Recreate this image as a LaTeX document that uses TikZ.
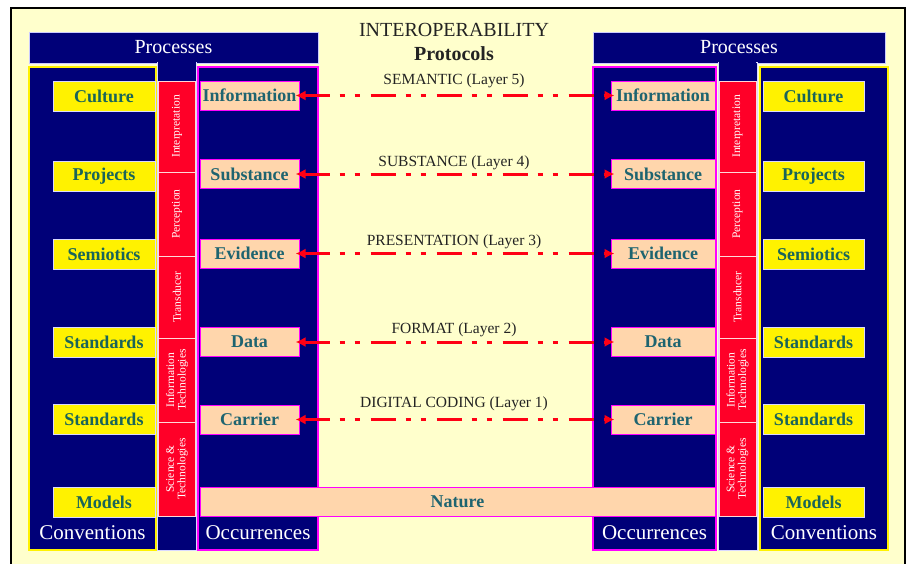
\documentclass[tikz,border=0pt]{standalone}
\usepackage{fontspec}
\setmainfont{Liberation Serif}
\usetikzlibrary{arrows.meta}
\definecolor{navy}{RGB}{0,0,120}
\definecolor{bgyel}{RGB}{255,255,204}
\definecolor{redseg}{RGB}{255,0,40}
\definecolor{salmon}{RGB}{255,214,172}
\definecolor{magb}{RGB}{255,0,255}
\definecolor{tealt}{RGB}{30,100,112}
\definecolor{tealg}{RGB}{25,100,90}
\definecolor{arrred}{RGB}{255,0,20}
\definecolor{titleg}{RGB}{35,35,35}
\newcommand{\fsz}[1]{\fontsize{#1}{#1}\selectfont}
\tikzset{
  headbox/.style={fill=navy, draw=white!80!blue, line width=1pt, inner sep=0, text=white, font=\fsz{20}},
  colbox/.style={fill=navy, line width=1.5pt, inner sep=0},
  midstrip/.style={fill=navy, draw=white!85!blue, line width=0.8pt, inner sep=0},
  redbox/.style={fill=redseg, draw=white!85!red, line width=0.8pt, inner sep=0, text=white, font=\fsz{11.5}, align=center, rotate=90},
  ybox/.style={fill=yellow, draw=white!85!blue, line width=1pt, inner sep=0, text=tealg, font=\bfseries\fsz{18}, minimum height=30},
  sbox/.style={fill=salmon, draw=magb, line width=1pt, inner sep=0, text=tealt, font=\bfseries\fsz{18}, minimum height=29},
  wlabel/.style={text=white, font=\fsz{21}, inner sep=0},
  titletext/.style={text=titleg, font=\fsz{20}, inner sep=0},
  layerlab/.style={text=titleg, font=\fsz{15.5}, inner sep=0},
  proto/.style={draw=arrred, line width=3pt, {Latex[length=10pt,width=10pt]}-{Latex[length=10pt,width=10pt]},
    dash pattern=on 25pt off 10pt on 5pt off 10pt on 5pt off 11pt, shorten <=-4pt, shorten >=-4pt}
}
\begin{document}
\begin{tikzpicture}[x=1pt,y=-1pt]
\useasboundingbox (0,0) rectangle (909,563);
\fill[white] (0,0) rectangle (909,563);
\draw[black, line width=1.5pt, fill=bgyel] (11,8) rectangle (905,575);

% headers
\node[headbox, minimum width=289, minimum height=31] (procL) at (173.5,47.5) {Processes};
\node[headbox, minimum width=292, minimum height=31] (procR) at (739,47.5) {Processes};

% columns
\node[colbox, draw=yellow, minimum width=127, minimum height=483] (convL) at (92.5,308.5) {};
\node[colbox, draw=magb, minimum width=120, minimum height=483] (occL) at (258,308.5) {};
\node[colbox, draw=magb, minimum width=123, minimum height=483] (occR) at (654.5,308.5) {};
\node[colbox, draw=yellow, minimum width=128, minimum height=483] (convR) at (824,308.5) {};

% middle strips
\node[midstrip, minimum width=39, minimum height=488] (stripL) at (177,306) {};
\node[midstrip, minimum width=39, minimum height=488] (stripR) at (737.5,306) {};
\fill[navy] (158,60) rectangle (196,66);
\fill[navy] (719,60) rectangle (756,66);

% red segments left
\node[redbox, minimum width=91, minimum height=37] (intL) at (177,126.5) {Interpretation};
\node[redbox, minimum width=84, minimum height=37] (perL) at (177,214) {Perception};
\node[redbox, minimum width=82, minimum height=37] (traL) at (177,297) {Transducer};
\node[redbox, minimum width=84, minimum height=37] (itL) at (177,380) {Information\\Technologies};
\node[redbox, minimum width=94, minimum height=37] (stL) at (177,469) {Science \&\\Technologies};
% red segments right
\node[redbox, minimum width=91, minimum height=37] (intR) at (737.5,126.5) {Interpretation};
\node[redbox, minimum width=84, minimum height=37] (perR) at (737.5,214) {Perception};
\node[redbox, minimum width=82, minimum height=37] (traR) at (737.5,297) {Transducer};
\node[redbox, minimum width=84, minimum height=37] (itR) at (737.5,380) {Information\\Technologies};
\node[redbox, minimum width=94, minimum height=37] (stR) at (737.5,469) {Science \&\\Technologies};

% yellow boxes left
\node[ybox, minimum width=102] (culL) at (104,96) {Culture};
\node[ybox, minimum width=102] (proL) at (104,176) {Projects};
\node[ybox, minimum width=102] (semL) at (104,254) {Semiotics};
\node[ybox, minimum width=102] (st1L) at (104,342.5) {Standards};
\node[ybox, minimum width=102] (st2L) at (104,419.5) {Standards};
\node[ybox, minimum width=102] (modL) at (104,502) {Models};
% yellow boxes right
\node[ybox, minimum width=101] (culR) at (813.5,96) {Culture};
\node[ybox, minimum width=101] (proR) at (813.5,176) {Projects};
\node[ybox, minimum width=101] (semR) at (813.5,254) {Semiotics};
\node[ybox, minimum width=101] (st1R) at (813.5,342.5) {Standards};
\node[ybox, minimum width=101] (st2R) at (813.5,419.5) {Standards};
\node[ybox, minimum width=101] (modR) at (813.5,502) {Models};

% salmon boxes left
\node[sbox, minimum width=99] (infL) at (249.5,95.5) {Information};
\node[sbox, minimum width=99] (subL) at (249.5,174) {Substance};
\node[sbox, minimum width=99] (eviL) at (249.5,253.5) {Evidence};
\node[sbox, minimum width=99] (datL) at (249.5,342) {Data};
\node[sbox, minimum width=99] (carL) at (249.5,419.5) {Carrier};
% salmon boxes right
\node[sbox, minimum width=104] (infR) at (663,95.5) {Information};
\node[sbox, minimum width=104] (subR) at (663,174) {Substance};
\node[sbox, minimum width=104] (eviR) at (663,253.5) {Evidence};
\node[sbox, minimum width=104] (datR) at (663,342) {Data};
\node[sbox, minimum width=104] (carR) at (663,419.5) {Carrier};

% nature
\node[sbox, minimum width=515] (nature) at (457.5,501.5) {Nature};

% bottom labels
\node[wlabel] (convLlab) at (92.5,533) {Conventions};
\node[wlabel] (occLlab) at (258,533) {Occurrences};
\node[wlabel] (occRlab) at (654.5,533) {Occurrences};
\node[wlabel] (convRlab) at (824,533) {Conventions};

% title
\node[titletext] (title1) at (454,30) {INTEROPERABILITY};
\node[titletext, font=\bfseries\fsz{20}] (title2) at (454,54) {Protocols};

% layer labels
\node[layerlab] (lab5) at (454,81) {SEMANTIC (Layer 5)};
\node[layerlab] (lab4) at (454,163) {SUBSTANCE (Layer 4)};
\node[layerlab] (lab3) at (454,242) {PRESENTATION (Layer 3)};
\node[layerlab] (lab2) at (454,330) {FORMAT (Layer 2)};
\node[layerlab] (lab1) at (454,404) {DIGITAL CODING (Layer 1)};

% protocol arrows
\draw[proto] (infL.east) -- (infR.west);
\draw[proto] (subL.east) -- (subR.west);
\draw[proto] (eviL.east) -- (eviR.west);
\draw[proto] (datL.east) -- (datR.west);
\draw[proto] (carL.east) -- (carR.west);
\end{tikzpicture}
\end{document}
